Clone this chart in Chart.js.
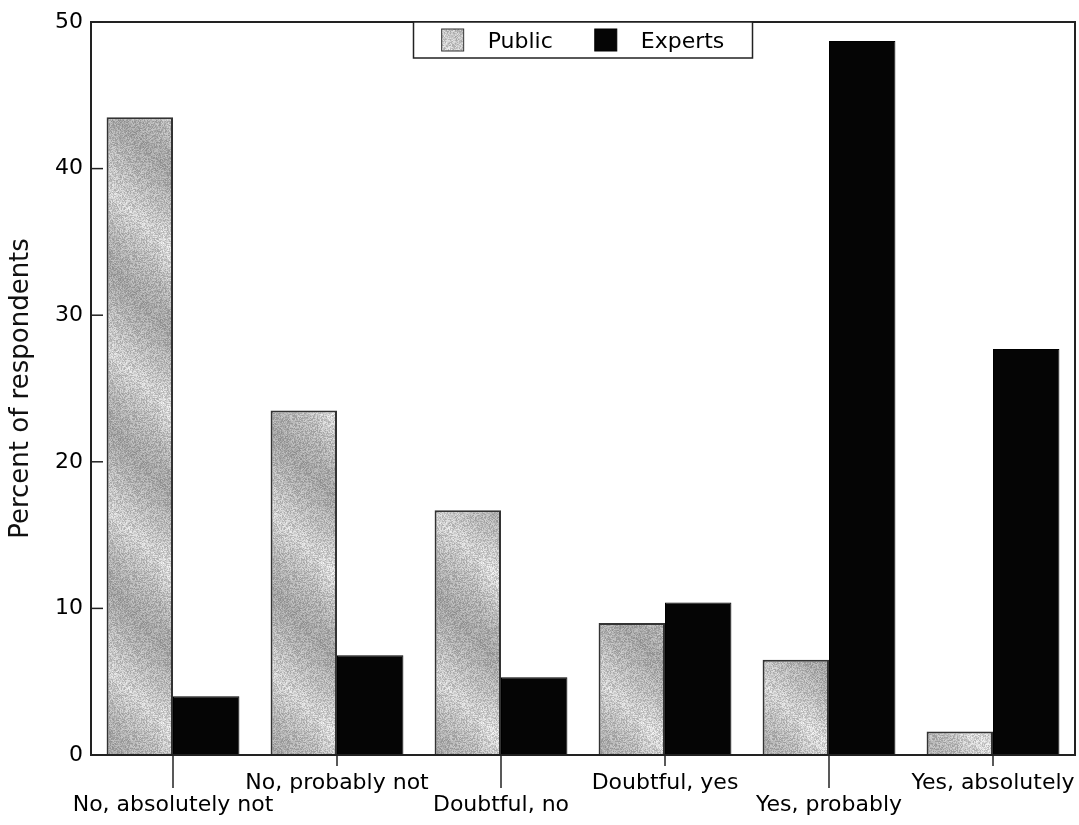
<!DOCTYPE html>
<html>
<head>
<meta charset="utf-8">
<title>Percent of respondents</title>
<script src="https://cdn.jsdelivr.net/npm/chart.js@4.4.1/dist/chart.umd.min.js"></script>
<style>
    html, body { margin: 0; padding: 0; background: #fff; }
    canvas { display: block; }
</style>
</head>
<body>
<canvas id="chart" width="1079" height="825"></canvas>
<script>
// ---- values ----
const categories = ['No, absolutely not', 'No, probably not', 'Doubtful, no', 'Doubtful, yes', 'Yes, probably', 'Yes, absolutely'];
const publicPct = [43.5, 23.5, 16.7, 9.0, 6.5, 1.6];
const expertPct = [4.0, 6.8, 5.3, 10.4, 48.7, 27.7];
const seriesNames = ['Public', 'Experts'];
const yMin = 0, yMax = 50, yStep = 10;

const FONT = "'DejaVu Sans', 'Liberation Sans', Arial, sans-serif";

// grey halftone-ish fill for the Public bars (soft diagonal light streaks + grain)
function makeGreyPattern() {
    const size = 160;
    const c = document.createElement('canvas');
    c.width = size; c.height = size;
    const g = c.getContext('2d');
    const grad = g.createLinearGradient(0, size, size, 0);
    grad.addColorStop(0, '#a2a2a2');
    grad.addColorStop(0.12, '#b4b4b4');
    grad.addColorStop(0.25, '#d6d6d6');
    grad.addColorStop(0.38, '#b6b6b6');
    grad.addColorStop(0.5, '#a2a2a2');
    grad.addColorStop(0.62, '#b2b2b2');
    grad.addColorStop(0.75, '#cccccc');
    grad.addColorStop(0.88, '#b4b4b4');
    grad.addColorStop(1, '#a2a2a2');
    g.fillStyle = grad;
    g.fillRect(0, 0, size, size);
    // fixed hash grain, to look like the printed screen
    const img = g.getImageData(0, 0, size, size);
    for (let y = 0; y < size; y++) {
        for (let x = 0; x < size; x++) {
            const h = Math.sin(x * 12.9898 + y * 78.233) * 43758.5453;
            const f = 0.85 + 0.32 * (h - Math.floor(h));
            const k = (y * size + x) * 4;
            img.data[k] = Math.min(255, img.data[k] * f);
            img.data[k + 1] = Math.min(255, img.data[k + 1] * f);
            img.data[k + 2] = Math.min(255, img.data[k + 2] * f);
        }
    }
    g.putImageData(img, 0, 0);
    return g.createPattern(c, 'repeat');
}

const ctx = document.getElementById('chart').getContext('2d');
const greyFill = makeGreyPattern();
const fills = [greyFill, '#050505'];
const edges = ['#333333', '#000000'];

// box frame, inward y ticks, staggered x ticks and the boxed legend
const framePlugin = {
    id: 'frame',
    afterDraw(chart) {
        const { ctx, chartArea: a, scales } = chart;
        ctx.save();
        ctx.strokeStyle = '#222';
        ctx.lineWidth = 2;
        ctx.strokeRect(a.left, a.top, a.right - a.left, a.bottom - a.top);

        ctx.lineWidth = 1.5;
        scales.y.ticks.forEach(t => {
            const y = scales.y.getPixelForValue(t.value);
            ctx.beginPath(); ctx.moveTo(a.left, y); ctx.lineTo(a.left + 12, y); ctx.stroke();
        });
        scales.x.ticks.forEach((t, i) => {
            const x = scales.x.getPixelForTick(i);
            const len = i % 2 === 0 ? 33 : 11;
            ctx.beginPath(); ctx.moveTo(x, a.bottom); ctx.lineTo(x, a.bottom + len); ctx.stroke();
        });

        // legend
        ctx.font = '22px ' + FONT;
        const sw = 22, gapText = 24, gapItem = 42;
        const widths = chart.data.datasets.map(d => ctx.measureText(d.label).width);
        const boxW = 339, boxH = 36;
        const bx = (a.left + a.right) / 2 - boxW / 2, by = a.top;
        const inner = widths.reduce((s, w) => s + sw + gapText + w, 0) + gapItem * (widths.length - 1);
        ctx.fillStyle = '#fff';
        ctx.fillRect(bx, by, boxW, boxH);
        ctx.lineWidth = 1.5;
        ctx.strokeRect(bx, by, boxW, boxH);
        let x = bx + (boxW - inner) / 2;
        chart.data.datasets.forEach((d, i) => {
            ctx.fillStyle = d.backgroundColor;
            ctx.fillRect(x, by + 7, sw, sw);
            ctx.lineWidth = 1;
            ctx.strokeStyle = d.borderColor;
            ctx.strokeRect(x, by + 7, sw, sw);
            ctx.fillStyle = '#000';
            ctx.textBaseline = 'alphabetic';
            ctx.textAlign = 'left';
            ctx.fillText(d.label, x + sw + gapText, by + 26);
            x += sw + gapText + widths[i] + gapItem;
        });
        ctx.restore();
    }
};

new Chart(ctx, {
    type: 'bar',
    data: {
        labels: categories,
        datasets: [
            { label: seriesNames[0], data: publicPct, backgroundColor: fills[0], borderColor: edges[0], borderWidth: 2 },
            { label: seriesNames[1], data: expertPct, backgroundColor: fills[1], borderColor: edges[1], borderWidth: 1 }
        ]
    },
    options: {
        responsive: false,
        animation: false,
        layout: { padding: { top: 22, right: 4, left: 0, bottom: 0 } },
        datasets: { bar: { categoryPercentage: 0.81, barPercentage: 1.0 } },
        plugins: { legend: { display: false }, tooltip: { enabled: false } },
        scales: {
            x: {
                grid: { display: false, drawTicks: false },
                border: { display: false },
                ticks: {
                    color: '#000',
                    font: { family: FONT, size: 22, lineHeight: 1 },
                    padding: 17,
                    maxRotation: 0,
                    autoSkip: false,
                    callback: (v, i) => i % 2 === 0 ? ['', categories[i]] : categories[i]
                },
                afterFit: s => { s.height = 70; s.paddingLeft = 0; s.paddingRight = 0; }
            },
            y: {
                min: yMin,
                max: yMax,
                grid: { display: false, drawTicks: false },
                border: { display: false },
                ticks: { stepSize: yStep, color: '#000', font: { family: FONT, size: 22 }, padding: 8 },
                title: {
                    display: true,
                    text: 'Percent of respondents',
                    color: '#111',
                    font: { family: FONT, size: 26, lineHeight: 1.2 },
                    padding: { top: 6, bottom: 0 }
                },
                afterFit: s => { s.width = 91; s.paddingTop = 0; s.paddingBottom = 0; }
            }
        }
    },
    plugins: [framePlugin]
});
</script>
</body>
</html>
